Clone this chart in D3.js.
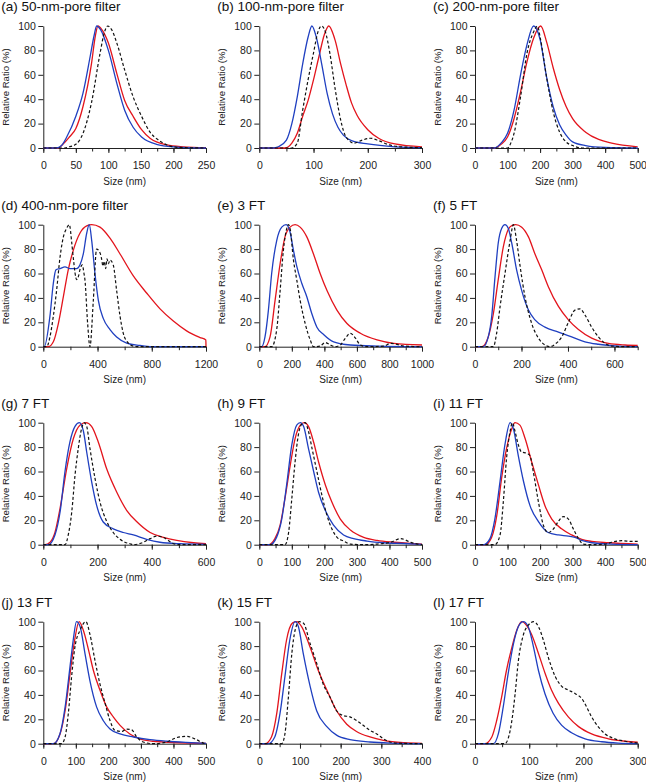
<!DOCTYPE html>
<html><head><meta charset="utf-8">
<script src="https://d3js.org/d3.v7.min.js"></script>
<style>body{margin:0;background:#fff}svg{display:block}text{font-family:"Liberation Sans",Arial,Helvetica,sans-serif}</style>
</head><body><script>
// ---------- DATA (size nm, relative ratio %) ----------
const titles = ["(a) 50-nm-pore filter","(b) 100-nm-pore filter","(c) 200-nm-pore filter","(d) 400-nm-pore filter","(e) 3 FT","(f) 5 FT","(g) 7 FT","(h) 9 FT","(i) 11 FT","(j) 13 FT","(k) 15 FT","(l) 17 FT"];
const xMax = [250,300,500,1200,1000,700,600,500,500,500,400,300];
const xLabelStep = [50,100,100,400,200,200,200,100,100,100,100,100];
const xMinorStep = [25,50,50,200,100,100,100,50,50,50,50,50];
const yTicks = [0,20,40,60,80,100];

const blue_a=[[0,0],[20,0],[28,2],[36,9],[50,26],[61,45],[72,75],[78,92],[82,100],[88,97],[100,80],[113,53],[125,31],[138,17],[151,9],[174,3],[200,1],[250,0]];
const red_a=[[0,0],[23,0],[30,3],[40,9],[50,16],[61,34],[74,69],[80,92],[84,100],[90,97],[100,86],[113,61],[125,39],[138,26],[151,15],[164,8],[190,2.5],[215,1],[250,0.3]];
const dash_a=[[0,0],[33,0],[40,1],[50,3],[61,12],[74,37],[87,77],[94,95],[99,100],[105,97],[113,86],[125,64],[138,42],[151,26],[164,13],[177,6.5],[190,2.5],[200,1],[215,0.3],[250,0]];

const blue_b=[[0,0],[25,0],[35,1],[50,6.5],[60,20],[70,42],[80,69],[90,91],[97,100],[105,91],[115,69],[125,45],[135,28],[145,17],[155,10.6],[170,6],[200,3.3],[250,1],[300,0.3]];
const red_b=[[0,0],[48,0],[60,4],[70,12],[80,26],[90,39],[100,56],[110,75],[120,93],[128,100],[140,88],[150,69],[160,52],[170,37],[180,27],[200,15],[220,8],[250,3.3],[300,1]];
const dash_b=[[0,0],[60,0],[70,4],[80,31],[90,56],[100,78],[108,95],[115,100],[122,95],[130,78],[140,48],[150,23],[160,9],[175,4],[190,6.5],[205,8],[220,6],[240,2.5],[260,1],[300,0.3]];

const blue_c=[[0,0],[60,0],[80,4],[100,12],[120,31],[140,60],[160,85],[180,100],[200,89],[220,58],[240,34],[260,19],[280,10.6],[300,5],[340,2],[400,0.5],[500,0]];
const red_c=[[0,0],[60,0],[80,3],[100,9],[120,24],[140,46],[160,71],[180,90],[202,100],[220,87],[240,66],[260,48],[280,34],[300,24],[340,13],[380,7],[420,4],[500,1]];
const dash_c=[[0,0],[100,0],[110,4],[120,12],[140,42],[160,78],[180,95],[192,100],[200,91],[220,58],[240,30],[260,13],[280,5],[300,2],[330,0],[500,0]];

const blue_d=[[0,0],[7,0],[49,25],[74,52],[93,63],[123,64],[160,65.5],[197,64],[246,64],[270,67],[295,76],[320,93],[339,100],[357,87],[381,60],[406,38],[443,23],[492,14],[541,8],[615,3],[713,1],[800,0],[1200,0]];
const red_d=[[0,0],[37,0],[74,4],[111,19],[148,41],[184,63],[221,79],[270,93],[320,99],[357,100],[418,98],[492,89],[566,76],[664,58],[762,44],[861,31],[959,21],[1057,13],[1156,7.5],[1199,5.5],[1200,0]];
const dash_d=[[0,0],[25,0],[49,8],[74,25],[98,46],[123,73],[148,90],[172,97],[192,100],[210,85],[221,73],[246,55],[260,58],[270,63],[288,67],[300,60],[307,55],[327,19],[344,0],[369,38],[393,80],[418,77],[430,72],[440,66],[450,70],[460,64],[470,72],[480,68],[492,71],[516,67],[541,46],[566,25],[590,11],[627,3],[664,0.5],[700,0],[1200,0]];

const blue_e=[[0,0],[14,0],[35,8],[56,30],[76,60],[107,87],[138,98],[165,100],[189,94],[210,79],[230,66],[261,52],[292,41],[323,27],[354,16],[395,10],[457,4],[560,1.4],[724,0.5],[1000,0]];
const red_e=[[0,0],[35,0],[66,8],[97,38],[128,68],[158,90],[189,98],[220,100],[251,98],[292,90],[333,76],[374,60],[416,46],[477,30],[539,19],[621,11],[724,5.5],[827,2.7],[1000,1.4]];
const dash_e=[[0,0],[76,0],[107,14],[128,46],[148,79],[169,97],[179,100],[189,97],[210,71],[230,55],[251,38],[282,19],[313,5.5],[333,0],[374,0.5],[405,3.5],[436,1.4],[467,0],[498,1.4],[529,7],[560,11],[591,7],[621,1.4],[663,0],[765,0.5],[807,2.7],[837,2.2],[889,0.5],[1000,0]];

const blue_f=[[0,0],[36,0],[57,8],[72,25],[86,57],[100,85],[115,97],[129,100],[143,97],[158,85],[179,63],[201,46],[230,30],[258,22],[301,16],[359,12],[416,8],[473,4],[531,2],[617,0.5],[700,0]];
const red_f=[[0,0],[29,0],[57,8],[79,27],[100,55],[122,82],[143,96],[160,99.5],[175,100],[201,98],[230,90],[258,76],[287,63],[316,49],[359,33],[402,22],[445,14],[502,7],[574,2.7],[646,1.4],[700,1]];
const dash_f=[[0,0],[79,0],[93,11],[108,33],[129,60],[151,87],[165,100],[179,87],[194,66],[215,41],[244,19],[273,7],[301,1.4],[323,0],[344,2],[373,8],[402,20],[430,30],[452,31],[473,26],[502,16],[531,8],[560,2.7],[588,0.5],[646,0],[700,0]];

const blue_g=[[0,0],[18,0],[43,8],[62,27],[80,60],[98,84],[117,97],[133,100],[148,93],[160,76],[178,52],[197,32],[221,18.6],[258,13],[295,10],[332,8],[381,4.4],[430,2],[504,0.8],[600,0.3]];
const red_g=[[0,0],[6,0],[25,2],[43,10],[62,30],[86,62],[111,87],[135,98],[157,100],[178,97],[203,84],[234,62],[271,43],[308,28],[344,19],[394,10],[443,6],[492,3.5],[554,1.6],[600,0.8]];
const dash_g=[[0,0],[80,0],[92,8],[105,27],[117,57],[129,79],[141,95],[150,100],[160,97],[172,79],[191,54],[209,35],[234,19],[258,10],[283,4.4],[301,2],[320,0.8],[332,0],[369,2],[394,5],[418,7],[443,6],[461,3.5],[480,0.8],[504,0],[600,0]];

const blue_h=[[0,0],[33,0],[53,6],[69,21],[84,49],[100,82],[115,98],[126,100],[136,97],[151,79],[167,60],[182,43],[203,28],[228,16],[259,8],[290,5],[331,3],[383,1.6],[444,1],[500,0.3]];
const red_h=[[0,0],[28,0],[48,5],[64,16],[79,38],[95,65],[110,87],[126,98],[138,100],[151,97],[167,84],[182,68],[203,49],[223,35],[249,21],[280,12],[321,6],[362,3.5],[414,2],[465,1],[500,0.5]];
const dash_h=[[0,0],[79,0],[90,10],[100,38],[110,68],[120,90],[131,99],[141,100],[151,93],[162,79],[177,60],[192,41],[208,24],[223,13],[239,6],[259,3],[280,0.5],[321,0],[362,0.5],[403,2],[434,5],[465,2],[486,0.5],[500,0]];

const blue_i=[[0,0],[26,0],[46,5],[61,21],[77,52],[92,82],[108,100],[118,95],[133,73],[149,52],[169,32],[195,19],[225,10],[256,8],[287,7],[307,6],[328,3.5],[359,1.6],[420,0.5],[500,0]];
const red_i=[[0,0],[31,0],[51,6],[67,24],[82,55],[97,79],[113,95],[123,100],[138,98],[154,87],[174,68],[195,49],[215,32],[236,21],[266,13],[297,8],[328,4.4],[359,2.7],[410,1.6],[500,0.5]];
const dash_i=[[0,0],[61,0],[77,8],[87,35],[97,71],[108,93],[115,100],[123,93],[133,82],[143,76],[159,75],[169,73],[179,60],[195,35],[210,16],[225,10],[241,13],[256,19],[271,23],[287,21],[302,13],[318,5],[333,0.5],[359,0],[400,0.5],[420,2],[451,3.3],[482,2.7],[500,2.7]];

const blue_j=[[0,0],[31,0],[51,8],[67,30],[82,63],[92,85],[102,100],[113,96],[128,74],[143,52],[164,30],[184,19],[205,12],[236,8],[277,5.5],[328,3.3],[379,2],[440,1],[500,0.3]];
const red_j=[[0,0],[31,0],[51,7.5],[67,27],[82,57],[97,86],[110,100],[123,93],[138,78],[154,60],[174,44],[195,30],[215,22],[236,15],[266,8],[297,4],[338,2],[400,1],[500,0.3]];
const dash_j=[[0,0],[56,0],[67,5.5],[77,25],[87,55],[97,79],[113,93],[131,100],[143,90],[159,68],[174,49],[190,33],[205,19],[220,11],[241,10],[256,12],[271,11.5],[287,5.5],[307,1.4],[338,0],[379,1.4],[410,5],[440,6],[471,3.3],[492,0.5],[500,0]];

const blue_k=[[0,0],[22,0],[38,5.5],[51,25],[63,55],[75,85],[88,100],[96,96],[108,74],[125,47],[141,27],[166,14],[190,7],[223,3.3],[272,1.4],[321,0.5],[400,0]];
const red_k=[[0,0],[14,0],[30,5.5],[43,25],[55,57],[67,85],[82,99],[92,100],[104,96],[125,79],[145,60],[166,44],[190,27],[215,16],[239,10],[272,5.5],[305,2.7],[354,0.8],[400,0.3]];
const dash_k=[[0,0],[55,0],[63,8],[71,36],[80,74],[88,93],[98,100],[108,99],[125,82],[141,66],[157,49],[174,38],[190,27],[207,23],[223,22],[239,19],[256,15],[272,11],[289,8],[305,4],[321,1.4],[338,0.5],[400,0]];

const blue_l=[[0,0],[34,0],[43,8],[52,30],[61,57],[71,82],[80,96],[89,100],[98,96],[108,79],[117,60],[129,41],[144,25],[160,15],[178,9],[203,4],[234,1.6],[264,0.5],[300,0]];
const red_l=[[0,0],[18,0],[31,5.5],[40,19],[49,38],[58,60],[68,79],[77,93],[86,100],[95,97],[104,90],[117,74],[129,58],[141,44],[154,33],[172,22],[191,14],[215,8],[246,4],[277,2],[300,1.2]];
const dash_l=[[0,0],[55,0],[61,4],[68,19],[74,41],[80,68],[89,89],[98,97],[108,100],[117,96],[126,85],[135,71],[148,55],[160,47],[172,44],[185,41],[197,37],[206,30],[215,22],[227,14],[240,8],[258,4],[277,2],[300,0.5]];

const blueSeries=[blue_a,blue_b,blue_c,blue_d,blue_e,blue_f,blue_g,blue_h,blue_i,blue_j,blue_k,blue_l];
const redSeries=[red_a,red_b,red_c,red_d,red_e,red_f,red_g,red_h,red_i,red_j,red_k,red_l];
const dashSeries=[dash_a,dash_b,dash_c,dash_d,dash_e,dash_f,dash_g,dash_h,dash_i,dash_j,dash_k,dash_l];

// ---------- LAYOUT ----------
const W=646,H=782;
const colX=[43.3,259.3,475], pw=162.7;
const rowY=[26,224.7,422.7,621.7], ph=122;
const BLUE="#1f3fc0", RED="#e3141c", AX="#222";

const svg=d3.select("body").append("svg").attr("width",W).attr("height",H);

titles.forEach((t,i)=>{
  const x0=colX[i%3], y0=rowY[Math.floor(i/3)];
  const g=svg.append("g").attr("transform",`translate(${x0},${y0})`);
  const x=d3.scaleLinear().domain([0,xMax[i]]).range([0,pw]);
  const y=d3.scaleLinear().domain([0,100]).range([ph,0]);

  // minor x ticks
  g.append("g").attr("transform",`translate(0,${ph})`)
    .call(d3.axisBottom(x).tickValues(d3.range(0,xMax[i]+1e-6,xMinorStep[i])).tickSize(3.5).tickFormat("").tickSizeOuter(0))
    .call(a=>a.select(".domain").remove())
    .call(a=>a.selectAll("line").attr("stroke",AX));
  // major x axis
  const xa=g.append("g").attr("transform",`translate(0,${ph})`)
    .call(d3.axisBottom(x).tickValues(d3.range(0,xMax[i]+1e-6,xLabelStep[i])).tickSize(5).tickPadding(8.5).tickSizeOuter(0).tickFormat(d3.format("d")));
  xa.select(".domain").attr("stroke",AX).attr("stroke-width",1);
  xa.selectAll("line").attr("stroke",AX);
  xa.selectAll("text").attr("font-size","10.5px").attr("fill",AX).style("font-family",'"Liberation Sans",Arial,sans-serif');
  // y axis
  const ya=g.append("g")
    .call(d3.axisLeft(y).tickValues(yTicks).tickSize(5).tickPadding(2.5).tickSizeOuter(0));
  ya.select(".domain").attr("stroke",AX).attr("stroke-width",1);
  ya.selectAll("line").attr("stroke",AX);
  ya.selectAll("text").attr("font-size","10.5px").attr("fill",AX).style("font-family",'"Liberation Sans",Arial,sans-serif');

  // labels
  g.append("text").attr("x",-42).attr("y",-15).attr("font-size","13.5px").attr("fill","#111").text(t);
  g.append("text").attr("transform",`translate(-34.5,${ph/2}) rotate(-90)`).attr("text-anchor","middle")
    .attr("font-size","9.6px").attr("fill",AX).text("Relative Ratio (%)");
  g.append("text").attr("x",pw/2).attr("y",ph+36.5).attr("text-anchor","middle")
    .attr("font-size","10px").attr("fill",AX).text("Size (nm)");

  const line=d3.line().x(d=>x(d[0])).y(d=>y(d[1])).curve(d3.curveMonotoneX);
  g.append("path").datum(redSeries[i]).attr("d",line).attr("fill","none").attr("stroke",RED).attr("stroke-width",1.3);
  g.append("path").datum(blueSeries[i]).attr("d",line).attr("fill","none").attr("stroke",BLUE).attr("stroke-width",1.3);
  g.append("path").datum(dashSeries[i]).attr("d",line).attr("fill","none").attr("stroke","#111").attr("stroke-width",1.2).attr("stroke-dasharray","3,2.2");
});
</script></body></html>
